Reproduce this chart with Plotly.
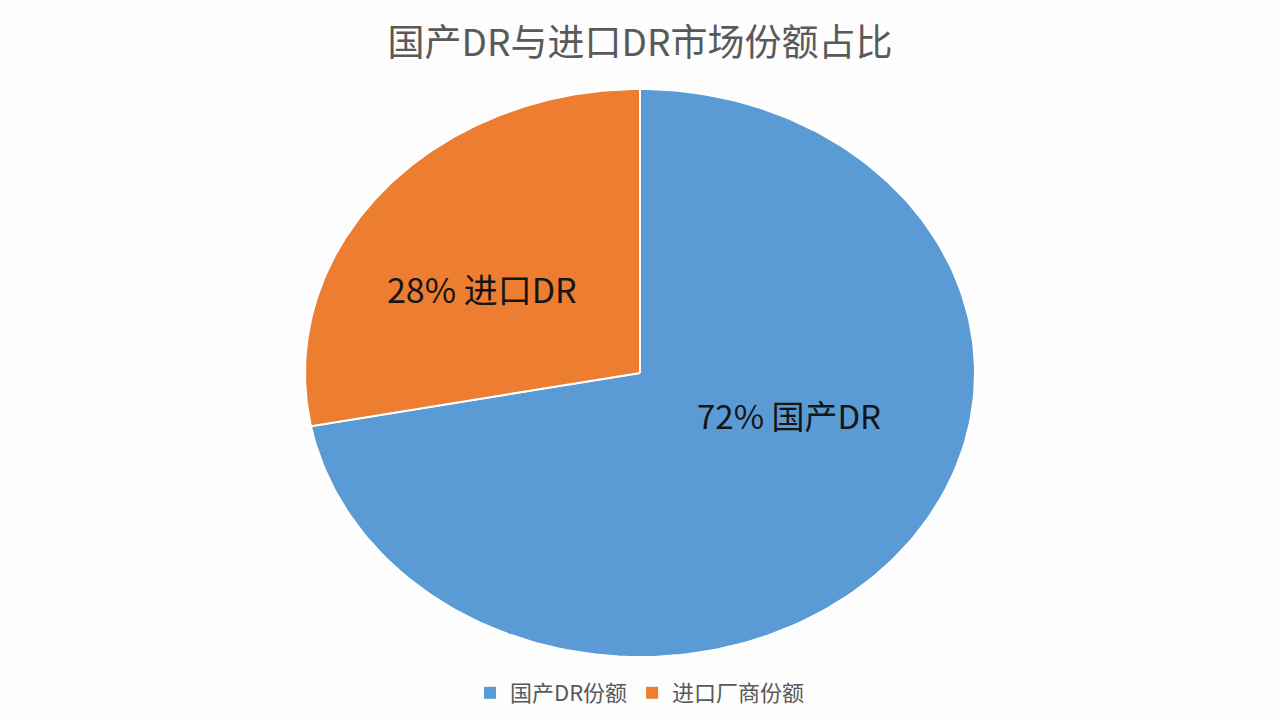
import numpy as np
import plotly.graph_objects as go

# data
labels = ["国产DR", "进口DR"]
legend_names = ["国产DR份额", "进口厂商份额"]
shares = [72, 28]
colors = ["#5B9BD5", "#ED7D31"]

# the source pie is stretched horizontally, so draw it as an ellipse
cx, cy = 640, 373
rx, ry = 335, 284
label_pos = [(789, 415), (482, 288)]

fig = go.Figure()

start = 0.0
total = sum(shares)
for name, share, color in zip(labels, shares, colors):
    end = start + share / total * 2 * np.pi
    theta = np.linspace(start, end, 200)
    xs = np.concatenate([[cx], cx + rx * np.sin(theta), [cx]])
    ys = np.concatenate([[cy], cy - ry * np.cos(theta), [cy]])
    fig.add_trace(go.Scatter(x=xs, y=ys, mode="lines", fill="toself",
                             fillcolor=color, line=dict(color="white", width=2),
                             hoverinfo="skip", showlegend=False))
    start = end

# legend entries
for lname, color in zip(legend_names, colors):
    fig.add_trace(go.Scatter(x=[None], y=[None], mode="markers", name=lname,
                             marker=dict(symbol="square", size=9, color=color)))

for (lx, ly), name, share in zip(label_pos, labels, shares):
    fig.add_annotation(x=lx, y=ly, text=f"{share}% {name}", showarrow=False,
                       font=dict(size=34 if share < 50 else 33, color="#151515"),
                       xanchor="center", yanchor="middle")

fig.update_layout(
    title=dict(text="国产DR与进口DR市场份额占比", x=0.5, xanchor="center",
               y=1 - 43 / 722, yanchor="middle",
               font=dict(size=37, color="#595959")),
    font=dict(family="Noto Sans CJK SC, Noto Sans, sans-serif"),
    xaxis=dict(range=[0, 1280], visible=False, fixedrange=True),
    yaxis=dict(range=[722, 0], visible=False, fixedrange=True),
    margin=dict(l=0, r=0, t=0, b=0),
    paper_bgcolor="#FDFDFD",
    plot_bgcolor="#FDFDFD",
    showlegend=True,
    legend=dict(orientation="h", x=0.5, xanchor="center", y=1 - 693 / 722,
                yanchor="middle", font=dict(size=22, color="#595959"),
                itemsizing="constant", traceorder="normal"),
    width=1280,
    height=722,
)

fig.write_html("out.html", config={"displayModeBar": False},
               post_script="document.body.style.margin='0';")
